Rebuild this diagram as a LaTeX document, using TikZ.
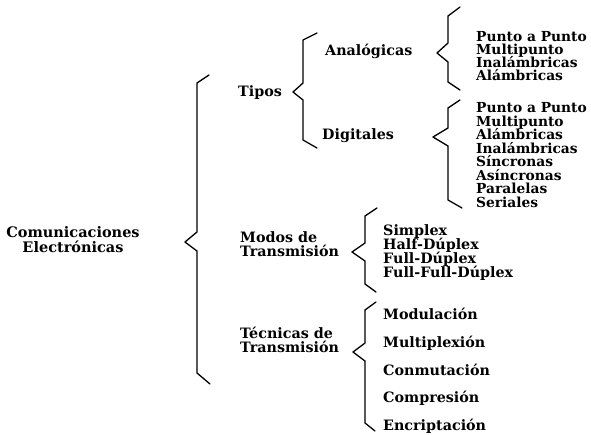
\documentclass[tikz,border=0pt]{standalone}
\usepackage{fontspec}
\setmainfont{DejaVu Serif}
\begin{document}
\begin{tikzpicture}[x=1pt,y=-1pt,
  lbl/.style={font=\bfseries\fontsize{14.3}{14.5}\selectfont, inner sep=0pt, anchor=mid west, align=left},
  leaf/.style={lbl, font=\bfseries\fontsize{13.8}{14}\selectfont},
  brace line/.style={line width=1.3pt, line join=round, line cap=round}]
\useasboundingbox (0,0) rectangle (591,434);

% root
\node[font=\bfseries\fontsize{14.5}{15}\selectfont, inner sep=0pt, align=center] (root) at (73,239.5)
  {Comunicaciones\\Electrónicas};

% second level
\node[lbl] (tipos) at (238,94) {Tipos};
\node[lbl] (modos) at (240,254) {Modos de\\Transmisión};
\node[lbl] (tecnicas) at (240,350) {Técnicas de\\Transmisión};

% third level under Tipos
\node[lbl] (analog) at (325,53) {Analógicas};
\node[lbl] (digital) at (322,137) {Digitales};

% leaves
\foreach \t [count=\i] in {Punto a Punto, Multipunto, Inalámbricas, Alámbricas}
  \node[leaf] (a\i) at (476,{26+13*\i}) {\t};
\foreach \t [count=\i] in {Punto a Punto, Multipunto, Alámbricas, Inalámbricas,
                           Síncronas, Asíncronas, Paralelas, Seriales}
  \node[leaf] (d\i) at (476,{96.5+13.5*\i}) {\t};
\foreach \t [count=\i] in {Simplex, Half-Dúplex, Full-Dúplex, Full-Full-Dúplex}
  \node[lbl] (m\i) at (383,{219+14*\i}) {\t};
\foreach \t [count=\i] in {Modulación, Multiplexión, Conmutación, Compresión, Encriptación}
  \node[lbl] (t\i) at (383,{289.5+27.7*\i}) {\t};

% braces
\draw[brace line] (209,75) -- (197,83) -- (197,232) -- (185,242) -- (197,251) -- (197,373) -- (210,384);
\draw[brace line] (317,33) -- (303,40) -- (303,83) -- (293,92) -- (303,100) -- (303,140) -- (317,148);
\draw[brace line] (460,7) -- (448,16) -- (448,43) -- (437,53) -- (448,62) -- (448,82) -- (460,90);
\draw[brace line] (460,100) -- (448,108) -- (448,128) -- (433,137) -- (448,146) -- (448,200) -- (462,208);
\draw[brace line] (377,208) -- (365,216) -- (365,243) -- (352,252) -- (365,261) -- (365,284) -- (376,292);
\draw[brace line] (376,302) -- (365,310) -- (365,343) -- (353,352) -- (365,361) -- (365,423) -- (375,431);
\end{tikzpicture}
\end{document}
